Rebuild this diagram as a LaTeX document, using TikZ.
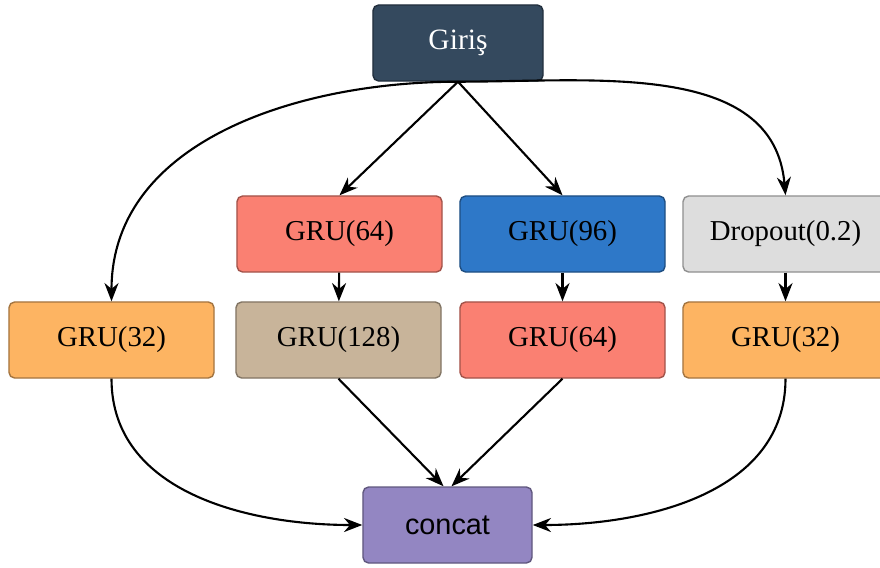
\documentclass[tikz,border=0pt]{standalone}
\usepackage{fontspec}
\setmainfont{Liberation Serif}
\newfontfamily\concatfont{Liberation Sans}
\definecolor{slate}{HTML}{34495E}
\definecolor{salmon}{HTML}{FA8072}
\definecolor{grublue}{HTML}{2E78C8}
\definecolor{dropgray}{HTML}{DDDDDD}
\definecolor{gruorange}{HTML}{FDB462}
\definecolor{tan}{HTML}{C8B49A}
\definecolor{lavender}{HTML}{9386C2}
\usetikzlibrary{arrows.meta}

\begin{document}
\begin{tikzpicture}[x=0.025cm,y=-0.025cm,
  layer/.style={draw=#1!65!black, fill=#1, rounded corners=4pt, line width=1pt,
    minimum width=5.125cm, minimum height=1.9cm, font=\fontsize{20.5}{24}\selectfont},
  flow/.style={-{Stealth[length=13pt,width=10pt]}, line width=1.5pt}]
  \useasboundingbox (0,0) rectangle (880,567);
  % Input
  \node[layer=slate, minimum width=4.25cm, text=white, font=\fontsize{21}{24}\selectfont]
    (giris) at (458,43) {Giriş};
  % First row
  \node[layer=salmon]   (gruA)  at (339.5,234) {GRU(64)};
  \node[layer=grublue]  (gruB)  at (562.5,234) {GRU(96)};
  \node[layer=dropgray] (drop)  at (785.5,234) {Dropout(0.2)};
  % Second row
  \node[layer=gruorange] (gruL)   at (111.5,340) {GRU(32)};
  \node[layer=tan]       (gruC)   at (338.5,340) {GRU(128)};
  \node[layer=salmon]    (gruD)   at (562.5,340) {GRU(64)};
  \node[layer=gruorange] (gruR)   at (785.5,340) {GRU(32)};
  % Merge
  \node[layer=lavender, minimum width=4.225cm, font=\concatfont\fontsize{20.5}{24}\selectfont]
    (concat) at (447.5,525) {concat};
  % Input branches
  \draw[flow] (giris.south) -- (gruA.north);
  \draw[flow] (giris.south) -- (gruB.north);
  \draw[flow] (giris.south) to[out=180,in=90] (gruL.north);
  \draw[flow] (giris.south) to[out=0,in=95] (drop.north);
  % Stacked layers
  \draw[flow] (gruA) -- (gruC);
  \draw[flow] (gruB) -- (gruD);
  \draw[flow] (drop) -- (gruR);
  % Into concat
  \draw[flow] (gruL.south) to[out=-90,in=180] (concat.west);
  \draw[flow] (gruC.south) -- ([xshift=-0.1cm]concat.north);
  \draw[flow] (gruD.south) -- ([xshift=0.1cm]concat.north);
  \draw[flow] (gruR.south) to[out=-90,in=0] (concat.east);
\end{tikzpicture}
\end{document}
